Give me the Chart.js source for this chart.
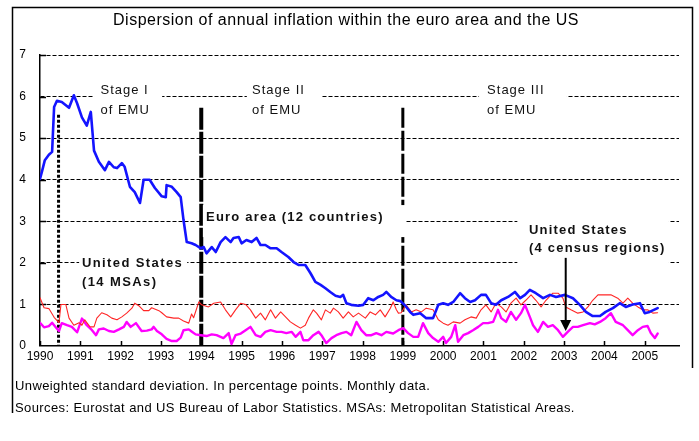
<!DOCTYPE html>
<html>
<head>
<meta charset="utf-8">
<script src="https://cdn.jsdelivr.net/npm/chart.js@4/dist/chart.umd.min.js"></script>
<style>
  html, body { margin: 0; padding: 0; background: #fff; }
</style>
</head>
<body>
<canvas id="chart" width="699" height="441"></canvas>
<script>
// Dispersion of annual inflation, [year, std dev in pp]
const euroArea = [
  [1990.00,4.02],[1990.05,4.2],[1990.12,4.47],[1990.22,4.6],[1990.30,4.67],[1990.35,5.75],[1990.42,5.9],
  [1990.54,5.87],[1990.72,5.73],[1990.84,6.03],[1990.92,5.84],[1991.04,5.5],[1991.16,5.3],[1991.26,5.63],
  [1991.34,4.7],[1991.46,4.43],[1991.61,4.23],[1991.71,4.43],[1991.83,4.3],[1991.91,4.28],[1992.03,4.4],
  [1992.10,4.31],[1992.23,3.83],[1992.35,3.7],[1992.48,3.44],[1992.57,4.0],[1992.72,4.0],[1992.85,3.8],
  [1993.02,3.6],[1993.12,3.58],[1993.14,3.87],[1993.27,3.83],[1993.39,3.7],[1993.49,3.58],[1993.56,3.03],
  [1993.64,2.5],[1993.76,2.47],[1993.86,2.43],[1993.99,2.35],[1994.06,2.38],[1994.13,2.23],[1994.26,2.38],
  [1994.36,2.26],[1994.48,2.5],[1994.60,2.62],[1994.73,2.5],[1994.80,2.6],[1994.93,2.62],[1995.00,2.47],
  [1995.12,2.55],[1995.25,2.5],[1995.37,2.6],[1995.47,2.43],[1995.59,2.43],[1995.72,2.35],[1995.87,2.35],
  [1995.99,2.26],[1996.16,2.14],[1996.29,2.02],[1996.41,1.95],[1996.58,1.95],[1996.71,1.75],[1996.83,1.54],
  [1996.96,1.47],[1997.08,1.39],[1997.20,1.3],[1997.33,1.21],[1997.45,1.18],[1997.52,1.23],[1997.60,1.03],
  [1997.72,0.99],[1997.90,0.97],[1998.02,0.99],[1998.14,1.15],[1998.27,1.1],[1998.39,1.18],[1998.51,1.23],
  [1998.59,1.3],[1998.71,1.18],[1998.84,1.1],[1998.94,1.08],[1999.06,0.97],[1999.18,0.82],[1999.26,0.75],
  [1999.43,0.79],[1999.58,0.67],[1999.75,0.67],[1999.88,0.99],[2000.00,1.03],[2000.12,0.99],[2000.25,1.06],
  [2000.42,1.27],[2000.54,1.15],[2000.67,1.06],[2000.79,1.1],[2000.94,1.23],[2001.06,1.23],[2001.19,1.03],
  [2001.31,0.99],[2001.44,1.1],[2001.61,1.18],[2001.78,1.3],[2001.91,1.15],[2002.03,1.23],[2002.15,1.35],
  [2002.30,1.27],[2002.48,1.15],[2002.65,1.23],[2002.80,1.18],[2003.02,1.23],[2003.22,1.15],[2003.39,0.99],
  [2003.54,0.82],[2003.71,0.72],[2003.89,0.72],[2004.03,0.82],[2004.21,0.91],[2004.38,1.03],[2004.53,0.94],
  [2004.70,1.0],[2004.88,1.03],[2005.00,0.79],[2005.12,0.82],[2005.32,0.91]
];

const usRegions = [
  [1990.00,1.16],[1990.10,0.92],[1990.22,0.9],[1990.35,0.69],[1990.47,0.56],[1990.52,1.0],[1990.64,1.0],
  [1990.72,0.67],[1990.84,0.5],[1990.97,0.56],[1991.04,0.5],[1991.11,0.63],[1991.24,0.46],[1991.34,0.46],
  [1991.41,0.67],[1991.53,0.8],[1991.66,0.75],[1991.78,0.67],[1991.91,0.63],[1992.03,0.7],[1992.15,0.79],
  [1992.28,0.91],[1992.35,1.03],[1992.45,0.97],[1992.57,0.85],[1992.70,0.85],[1992.77,0.92],[1992.95,0.85],
  [1993.02,0.8],[1993.14,0.7],[1993.32,0.67],[1993.44,0.67],[1993.56,0.6],[1993.69,0.55],[1993.76,0.77],
  [1993.81,0.68],[1993.94,1.06],[1994.01,0.99],[1994.18,0.94],[1994.31,1.03],[1994.48,1.06],[1994.60,0.87],
  [1994.73,0.7],[1994.85,0.87],[1994.98,1.03],[1995.10,1.0],[1995.22,0.87],[1995.35,0.67],[1995.47,0.79],
  [1995.59,0.63],[1995.72,0.87],[1995.84,0.67],[1995.97,0.82],[1996.09,0.7],[1996.21,0.58],[1996.34,0.5],
  [1996.46,0.43],[1996.58,0.5],[1996.66,0.67],[1996.78,0.87],[1996.86,0.79],[1996.98,0.63],[1997.08,0.87],
  [1997.20,0.79],[1997.28,0.91],[1997.40,0.82],[1997.52,0.67],[1997.65,0.82],[1997.77,0.7],[1997.90,0.79],
  [1998.07,0.67],[1998.19,0.82],[1998.32,0.75],[1998.44,0.87],[1998.56,0.7],[1998.69,0.91],[1998.76,1.06],
  [1998.84,0.87],[1998.89,0.79],[1998.96,0.8],[1999.08,0.99],[1999.21,0.82],[1999.33,0.87],[1999.46,0.82],
  [1999.58,0.91],[1999.75,0.87],[1999.88,0.63],[2000.00,0.55],[2000.12,0.5],[2000.25,0.58],[2000.42,0.55],
  [2000.54,0.63],[2000.69,0.7],[2000.82,0.67],[2000.94,0.87],[2001.06,0.99],[2001.19,0.82],[2001.31,1.03],
  [2001.44,0.94],[2001.56,0.82],[2001.68,1.03],[2001.81,1.15],[2001.93,0.99],[2002.05,1.1],[2002.18,1.23],
  [2002.30,1.1],[2002.43,0.94],[2002.55,1.1],[2002.72,1.27],[2002.85,1.27],[2002.97,1.15],[2003.04,0.94],
  [2003.17,0.87],[2003.34,0.79],[2003.47,0.82],[2003.59,0.94],[2003.71,1.1],[2003.84,1.23],[2004.01,1.23],
  [2004.16,1.23],[2004.33,1.15],[2004.46,1.03],[2004.58,1.15],[2004.70,1.03],[2004.83,0.94],[2004.95,0.87],
  [2005.07,0.87],[2005.20,0.79],[2005.32,0.8]
];

const usMSAs = [
  [1990.00,0.56],[1990.10,0.45],[1990.22,0.48],[1990.30,0.56],[1990.40,0.44],[1990.47,0.36],[1990.54,0.55],
  [1990.67,0.5],[1990.79,0.46],[1990.92,0.33],[1991.04,0.66],[1991.16,0.5],[1991.29,0.38],[1991.39,0.26],
  [1991.46,0.4],[1991.58,0.42],[1991.71,0.36],[1991.83,0.34],[1991.96,0.4],[1992.08,0.46],[1992.15,0.58],
  [1992.25,0.46],[1992.38,0.55],[1992.52,0.36],[1992.65,0.37],[1992.77,0.4],[1992.82,0.46],[1992.90,0.36],
  [1993.02,0.28],[1993.14,0.17],[1993.27,0.12],[1993.39,0.12],[1993.49,0.2],[1993.56,0.38],[1993.69,0.4],
  [1993.76,0.35],[1993.86,0.28],[1993.99,0.26],[1994.13,0.24],[1994.26,0.28],[1994.38,0.26],[1994.55,0.19],
  [1994.68,0.31],[1994.75,0.05],[1994.85,0.26],[1994.98,0.3],[1995.10,0.38],[1995.22,0.46],[1995.35,0.26],
  [1995.47,0.22],[1995.59,0.34],[1995.72,0.38],[1995.87,0.34],[1995.99,0.34],[1996.11,0.31],[1996.24,0.34],
  [1996.34,0.22],[1996.46,0.34],[1996.53,0.14],[1996.66,0.14],[1996.78,0.26],[1996.91,0.34],[1996.98,0.26],
  [1997.10,0.07],[1997.23,0.19],[1997.35,0.26],[1997.48,0.31],[1997.60,0.34],[1997.72,0.26],[1997.85,0.58],
  [1997.97,0.38],[1998.09,0.26],[1998.22,0.26],[1998.34,0.31],[1998.47,0.26],[1998.59,0.34],[1998.76,0.3],
  [1998.89,0.38],[1999.01,0.43],[1999.13,0.31],[1999.26,0.22],[1999.38,0.22],[1999.50,0.55],[1999.63,0.31],
  [1999.75,0.19],[1999.88,0.1],[2000.00,0.22],[2000.07,0.07],[2000.20,0.22],[2000.30,0.5],[2000.37,0.1],
  [2000.50,0.26],[2000.62,0.31],[2000.74,0.38],[2000.87,0.46],[2000.99,0.55],[2001.11,0.55],[2001.24,0.58],
  [2001.36,0.87],[2001.44,0.67],[2001.56,0.58],[2001.68,0.82],[2001.81,0.63],[2001.93,0.79],[2002.03,0.99],
  [2002.15,0.7],[2002.23,0.5],[2002.35,0.34],[2002.48,0.58],[2002.60,0.46],[2002.72,0.5],[2002.85,0.38],
  [2002.97,0.22],[2003.09,0.34],[2003.22,0.46],[2003.34,0.46],[2003.47,0.5],[2003.64,0.55],[2003.76,0.52],
  [2003.89,0.58],[2004.03,0.67],[2004.16,0.79],[2004.28,0.58],[2004.46,0.5],[2004.58,0.38],[2004.70,0.26],
  [2004.83,0.38],[2004.95,0.46],[2005.07,0.48],[2005.15,0.31],[2005.25,0.19],[2005.32,0.3]
];

const yearLabels = [1990, 1991, 1992, 1993, 1994, 1995, 1996, 1997, 1998, 1999, 2000, 2001, 2002, 2003, 2004, 2005];
const valueTicks = [0, 1, 2, 3, 4, 5, 6, 7];

const titleText = 'Dispersion of annual inflation within the euro area and the US';
const footnotes = [
  'Unweighted standard deviation. In percentage points. Monthly data.',
  'Sources: Eurostat and US Bureau of Labor Statistics. MSAs: Metropolitan Statistical Areas.'
];

// EMU stage boundaries (year, top of line in pp)
const stageLines = [
  { year: 1990.46, top: 5.56, width: 3, dash: [3, 2] },
  { year: 1994, top: 5.73, width: 4, dash: [22, 2] },
  { year: 1999, top: 5.73, width: 3, dash: [20, 3] }
];

// white patches behind the in-chart labels [x0, x1, yTop, yBottom]
const labelMasks = [
  [1991.34, 1993.03, 6.3, 5.8],
  [1995.13, 1996.97, 6.3, 5.8],
  [2000.89, 2003.07, 6.3, 5.8],
  [1994.04, 1999.08, 3.39, 2.62],
  [1990.97, 1993.65, 2.2, 1.8],
  [2001.84, 2005.6, 3.2, 1.8]
];

const notes = [
  { lines: ['Stage I', 'of EMU'], x: 1991.5, y: 6.15, lh: 20, font: '13px "Liberation Sans", Arial', sp: '1px' },
  { lines: ['Stage II', 'of EMU'], x: 1995.26, y: 6.15, lh: 20, font: '13px "Liberation Sans", Arial', sp: '1px' },
  { lines: ['Stage III', 'of EMU'], x: 2001.09, y: 6.15, lh: 20, font: '13px "Liberation Sans", Arial', sp: '1px' },
  { lines: ['Euro area (12 countries)'], x: 1994.12, y: 3.1, lh: 18, font: 'bold 13px "Liberation Sans", Arial', sp: '1.2px' },
  { lines: ['United States', '(14 MSAs)'], x: 1991.04, y: 1.98, lh: 19, font: 'bold 13px "Liberation Sans", Arial', sp: '1.4px' },
  { lines: ['United States', '(4 census regions)'], x: 2002.13, y: 2.77, lh: 18, font: 'bold 13px "Liberation Sans", Arial', sp: '1.2px' }
];

const arrowAt = { year: 2003.04, from: 2.12, to: 0.36 };

const toXY = arr => arr.map(([x, y]) => ({ x, y }));

const decor = {
  id: 'decor',
  beforeDatasetsDraw(chart) {
    const { ctx } = chart;
    const xs = chart.scales.x, ys = chart.scales.y;
    ctx.save();
    ctx.strokeStyle = '#000';

    // tick marks pointing into the plot
    ctx.lineWidth = 1.5;
    ctx.beginPath();
    xs.ticks.forEach(t => {
      const p = Math.round(xs.getPixelForValue(t.value)) + 0.5;
      ctx.moveTo(p, ys.bottom);
      ctx.lineTo(p, ys.bottom - 5);
    });
    ys.ticks.forEach(t => {
      if (t.value === 0) return;
      const p = Math.round(ys.getPixelForValue(t.value)) + 0.5;
      ctx.moveTo(xs.left, p);
      ctx.lineTo(xs.left + 6, p);
    });
    ctx.stroke();

    // stage boundaries
    stageLines.forEach(s => {
      const x = xs.getPixelForValue(s.year);
      ctx.lineWidth = s.width;
      ctx.setLineDash(s.dash);
      ctx.beginPath();
      ctx.moveTo(x, ys.getPixelForValue(s.top));
      ctx.lineTo(x, ys.bottom);
      ctx.stroke();
    });
    ctx.setLineDash([]);

    // label patches
    ctx.fillStyle = '#fff';
    labelMasks.forEach(([x0, x1, y0, y1]) => {
      const l = xs.getPixelForValue(x0), r = xs.getPixelForValue(x1);
      const t = ys.getPixelForValue(y0), b = ys.getPixelForValue(y1);
      ctx.fillRect(l, t, r - l, b - t);
    });

    // label texts
    ctx.fillStyle = '#111';
    ctx.textAlign = 'left';
    ctx.textBaseline = 'middle';
    notes.forEach(n => {
      ctx.font = n.font;
      ctx.letterSpacing = n.sp;
      const x = xs.getPixelForValue(n.x);
      const y = ys.getPixelForValue(n.y);
      n.lines.forEach((line, i) => ctx.fillText(line, x, y + i * n.lh));
    });
    ctx.letterSpacing = '0px';
    ctx.restore();
  },
  afterDatasetsDraw(chart) {
    const { ctx } = chart;
    const xs = chart.scales.x, ys = chart.scales.y;
    const x = xs.getPixelForValue(arrowAt.year);
    const y0 = ys.getPixelForValue(arrowAt.from);
    const y1 = ys.getPixelForValue(arrowAt.to);
    ctx.save();
    ctx.strokeStyle = '#000';
    ctx.fillStyle = '#000';
    ctx.lineWidth = 2;
    ctx.beginPath();
    ctx.moveTo(x, y0);
    ctx.lineTo(x, y1 - 9);
    ctx.stroke();
    ctx.beginPath();
    ctx.moveTo(x - 5.5, y1 - 11);
    ctx.lineTo(x + 5.5, y1 - 11);
    ctx.lineTo(x, y1);
    ctx.closePath();
    ctx.fill();
    ctx.restore();
  },
  afterDraw(chart) {
    const { ctx } = chart;
    ctx.save();
    // frame
    ctx.strokeStyle = '#000';
    ctx.lineWidth = 1.5;
    ctx.beginPath();
    ctx.moveTo(12.5, 413);
    ctx.lineTo(12.5, 7.5);
    ctx.lineTo(692.5, 7.5);
    ctx.lineTo(692.5, 368);
    ctx.stroke();

    ctx.fillStyle = '#000';
    ctx.textBaseline = 'middle';
    ctx.textAlign = 'center';
    ctx.font = '16px "Liberation Sans", Arial';
    ctx.letterSpacing = '0.5px';
    ctx.fillText(titleText, 346, 21);

    ctx.textAlign = 'left';
    ctx.font = '13px "Liberation Sans", Arial';
    ctx.letterSpacing = '0.4px';
    footnotes.forEach((t, i) => ctx.fillText(t, 15, 386 + i * 22));
    ctx.restore();
  }
};

new Chart(document.getElementById('chart'), {
  type: 'line',
  data: {
    datasets: [
      { label: 'Euro area (12 countries)', data: toXY(euroArea), borderColor: '#1414ff', borderWidth: 2.6, order: 1 },
      { label: 'United States (4 census regions)', data: toXY(usRegions), borderColor: '#ff2626', borderWidth: 1.1, order: 2 },
      { label: 'United States (14 MSAs)', data: toXY(usMSAs), borderColor: '#ff00ff', borderWidth: 2.4, order: 3 }
    ]
  },
  options: {
    responsive: false,
    animation: false,
    devicePixelRatio: 1,
    elements: {
      point: { radius: 0 },
      line: { tension: 0, borderJoinStyle: 'round', borderCapStyle: 'round', fill: false }
    },
    layout: { padding: { top: 55, right: 20, bottom: 75, left: 0 } },
    plugins: { legend: { display: false }, tooltip: { enabled: false } },
    scales: {
      x: {
        type: 'linear', min: 1990, max: 2005.85,
        afterBuildTicks: s => { s.ticks = yearLabels.map(v => ({ value: v })); },
        afterFit: s => { s.height = 20; },
        ticks: {
          callback: v => String(v), maxRotation: 0, autoSkip: false, padding: 3,
          color: '#000', font: { family: '"Liberation Sans", Arial', size: 12 }
        },
        grid: { drawOnChartArea: false, drawTicks: false },
        border: { color: '#000', width: 1.5 }
      },
      y: {
        min: 0, max: 7,
        afterBuildTicks: s => { s.ticks = valueTicks.map(v => ({ value: v })); },
        afterFit: s => { s.width = 40; },
        ticks: { padding: 14, color: '#000', font: { family: '"Liberation Sans", Arial', size: 12 } },
        grid: { color: '#000', lineWidth: c => (c.tick && c.tick.value === 0 ? 0 : 1), drawTicks: false },
        border: { color: '#000', width: 1.5, dash: [4, 2] }
      }
    }
  },
  plugins: [decor]
});
</script>
</body>
</html>
